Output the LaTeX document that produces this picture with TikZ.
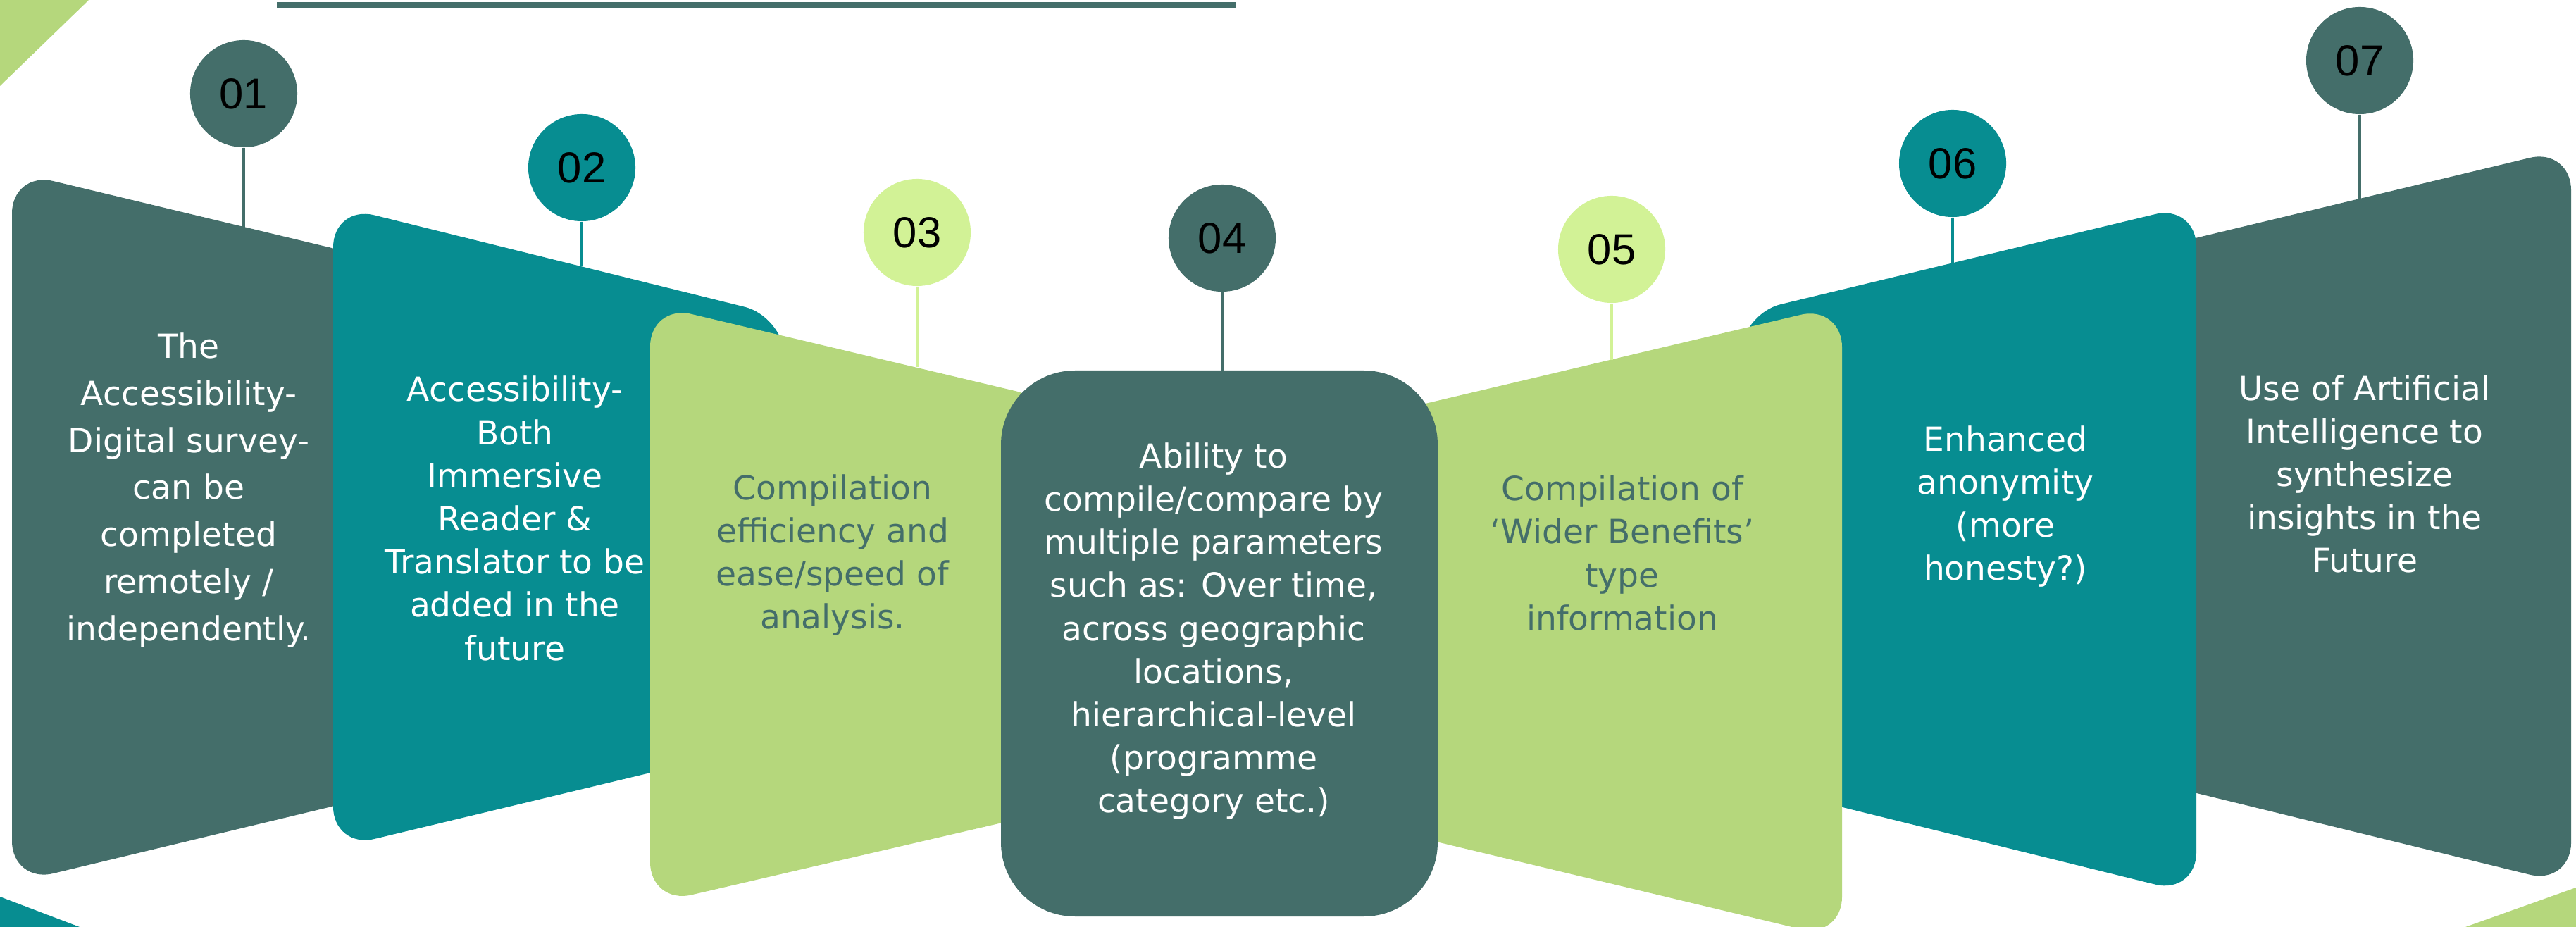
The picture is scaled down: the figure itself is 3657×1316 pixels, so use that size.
\documentclass[tikz,border=0pt]{standalone}
\usepackage{fontspec}
\setmainfont{DejaVu Sans}
\newfontfamily\numfont{Liberation Sans}
\usepackage{tikz}
\definecolor{pinedark}{HTML}{446E6A}
\definecolor{seablue}{HTML}{078D91}
\definecolor{limegreen}{HTML}{B5D77C}
\definecolor{limelight}{HTML}{D2F296}
\tikzset{
	panel/.style     = {rounded corners=0.6cm},
	badge/.style     = {circle, minimum size=1.52cm, inner sep=0pt, text=black, font=\numfont\fontsize{17.5}{20}\selectfont},
	stem/.style      = {line width=1.3pt},
	paneltext/.style = {align=center, inner sep=0pt, font=\fontsize{13.4}{17.4}\selectfont},
	looseline/.style = {font=\fontsize{13.4}{19}\selectfont},
}

\begin{document}
\begin{tikzpicture}[x=0.01cm, y=-0.01cm]
		\useasboundingbox (0,0) rectangle (3657,1316);

		% Corner triangles and the bar on top
		\fill[limegreen] (0,0) -- (126,0) -- (0,122) -- cycle;
		\fill[seablue] (0,1273) -- (113,1316) -- (0,1316) -- cycle;
		\fill[limegreen] (3657,1260) -- (3500,1316) -- (3657,1316) -- cycle;
		\fill[pinedark] (393,3) rectangle (1754,11);

		% Draw the panels, outer ones first
		\fill[panel, pinedark]  (17,243) -- (600,383) -- (600,1114) -- (17,1254) -- cycle;
		\fill[panel, pinedark]  (3650,210) -- (3650,1256) -- (3000,1097) -- (3000,366) -- cycle;
		\fill[panel, seablue]   (473,291) -- (1115,450) -- (1115,1051) -- (473,1205) -- cycle;
		\fill[panel, seablue]   (3118,290) -- (3118,1270) -- (2470,1110) -- (2470,446) -- cycle;
		\fill[panel, limegreen] (923,432) -- (1500,569) -- (1500,1150) -- (923,1284) -- cycle;
		\fill[panel, limegreen] (2615,433) -- (2615,1333) -- (1960,1176) -- (1960,588) -- cycle;
		\fill[pinedark, rounded corners=1.05cm] (1421,526) rectangle (2041,1301);

		% Where the stems meet the panels
		\coordinate (top1) at (346,323);
		\coordinate (top2) at (826,378);
		\coordinate (top3) at (1302,521);
		\coordinate (top4) at (1735,526);
		\coordinate (top5) at (2288,511);
		\coordinate (top6) at (2772,374);
		\coordinate (top7) at (3350,282);

		% Number badges
		\node[badge, fill=pinedark]  (num1) at (346,133) {01};
		\node[badge, fill=seablue]   (num2) at (826,238) {02};
		\node[badge, fill=limelight] (num3) at (1302,330) {03};
		\node[badge, fill=pinedark]  (num4) at (1735,338) {04};
		\node[badge, fill=limelight] (num5) at (2288,354) {05};
		\node[badge, fill=seablue]   (num6) at (2772,232) {06};
		\node[badge, fill=pinedark]  (num7) at (3350,86) {07};

		\draw[stem, pinedark]  (num1.south) -- (top1);
		\draw[stem, seablue]   (num2.south) -- (top2);
		\draw[stem, limelight] (num3.south) -- (top3);
		\draw[stem, pinedark]  (num4.south) -- (top4);
		\draw[stem, limelight] (num5.south) -- (top5);
		\draw[stem, seablue]   (num6.south) -- (top6);
		\draw[stem, pinedark]  (num7.south) -- (top7);

		% Panel texts
		\node[paneltext, looseline, text=white] (txt1) at (268,696)
			{The\\Accessibility-\\Digital survey-\\can be\\completed\\remotely /\\independently.};
		\node[paneltext, text=white] (txt2) at (731,736)
			{Accessibility-\\Both\\Immersive\\Reader \&\\Translator to be\\added in the\\future};
		\node[paneltext, text=pinedark] (txt3) at (1182,788)
			{Compilation\\efficiency and\\ease/speed of\\analysis.};
		\node[paneltext, text=white] (txt4) at (1723,896)
			{Ability to\\compile/compare by\\multiple parameters\\such as: Over time,\\across geographic\\locations,\\hierarchical-level\\(programme\\category etc.)};
		\node[paneltext, text=pinedark] (txt5) at (2303,785)
			{Compilation of\\‘Wider Benefits’\\type\\information};
		\node[paneltext, text=white] (txt6) at (2847,719)
			{Enhanced\\anonymity\\(more\\honesty?)};
		\node[paneltext, text=white] (txt7) at (3357,673)
			{Use of Artificial\\Intelligence to\\synthesize\\insights in the\\Future};
	\end{tikzpicture}
\end{document}
